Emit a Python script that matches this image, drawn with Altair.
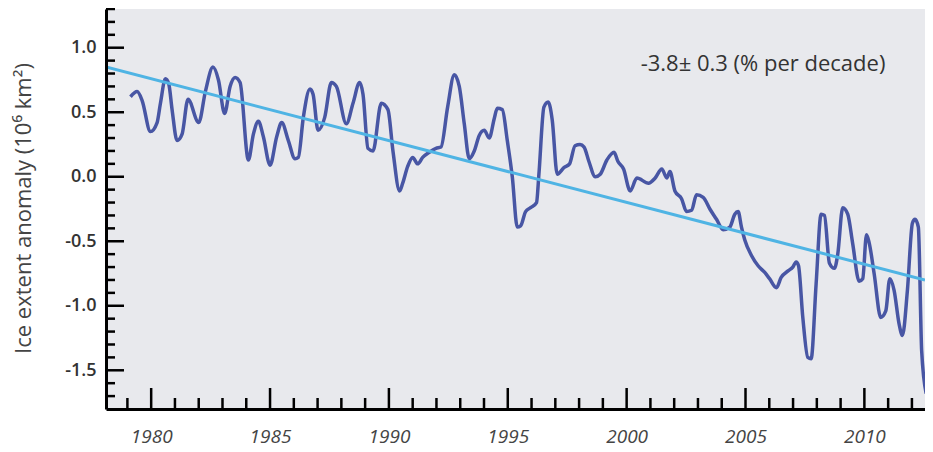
import altair as alt
import pandas as pd

# ---- data ----
years = [1979.13, 1979.41, 1979.62, 1979.97, 1980.25, 1980.39, 1980.60, 1980.74, 1980.88, 1981.09,
         1981.30, 1981.55, 1982.00, 1982.28, 1982.60, 1982.83, 1983.09, 1983.32, 1983.53, 1983.74,
         1984.09, 1984.30, 1984.51, 1984.72, 1985.00, 1985.28, 1985.49, 1985.77, 1986.05, 1986.19,
         1986.40, 1986.68, 1986.81, 1987.02, 1987.30, 1987.58, 1987.79, 1988.21, 1988.49, 1988.77,
         1988.91, 1989.12, 1989.33, 1989.68, 1989.96, 1990.17, 1990.45, 1990.58, 1990.79, 1991.00,
         1991.21, 1991.42, 1991.70, 1991.98, 1992.19, 1992.47, 1992.75, 1992.96, 1993.17, 1993.38,
         1993.59, 1993.80, 1994.01, 1994.22, 1994.43, 1994.56, 1994.77, 1994.98, 1995.19, 1995.40,
         1995.54, 1995.75, 1995.96, 1996.21, 1996.31, 1996.52, 1996.70, 1996.87, 1997.08, 1997.36,
         1997.60, 1997.83, 1998.04, 1998.21, 1998.41, 1998.68, 1998.89, 1999.17, 1999.47, 1999.63,
         1999.87, 2000.15, 2000.43, 2000.92, 2001.20, 2001.48, 2001.69, 2001.82, 2002.03, 2002.31,
         2002.52, 2002.73, 2002.94, 2003.22, 2003.50, 2003.78, 2004.06, 2004.34, 2004.55, 2004.69,
         2004.83, 2004.97, 2005.25, 2005.53, 2005.80, 2006.01, 2006.30, 2006.50, 2006.79, 2006.99,
         2007.13, 2007.23, 2007.41, 2007.62, 2007.76, 2007.97, 2008.18, 2008.32, 2008.53, 2008.74,
         2008.88, 2009.09, 2009.30, 2009.51, 2009.78, 2009.93, 2010.09, 2010.20, 2010.41, 2010.69,
         2010.90, 2011.07, 2011.25, 2011.46, 2011.60, 2011.81, 2012.02, 2012.13, 2012.27, 2012.41,
         2012.60]

anomaly = [0.62, 0.66, 0.59, 0.35, 0.42, 0.57, 0.76, 0.72, 0.52, 0.28,
           0.33, 0.60, 0.42, 0.66, 0.85, 0.75, 0.49, 0.70, 0.77, 0.73,
           0.13, 0.33, 0.43, 0.31, 0.09, 0.31, 0.42, 0.28, 0.14, 0.15,
           0.46, 0.68, 0.64, 0.36, 0.46, 0.73, 0.70, 0.41, 0.57, 0.73,
           0.64, 0.22, 0.20, 0.57, 0.52, 0.20, -0.11, -0.05, 0.08, 0.15,
           0.10, 0.15, 0.19, 0.22, 0.23, 0.54, 0.79, 0.70, 0.41, 0.14,
           0.20, 0.32, 0.36, 0.30, 0.45, 0.53, 0.52, 0.28, 0.00, -0.39,
           -0.38, -0.27, -0.24, -0.20, 0.02, 0.54, 0.58, 0.44, 0.02, 0.07,
           0.10, 0.24, 0.25, 0.23, 0.12, 0.00, 0.02, 0.13, 0.19, 0.12,
           0.06, -0.11, -0.01, -0.05, -0.01, 0.06, -0.01, 0.04, -0.11, -0.17,
           -0.27, -0.26, -0.14, -0.16, -0.25, -0.33, -0.41, -0.39, -0.29, -0.27,
           -0.39, -0.49, -0.61, -0.69, -0.74, -0.79, -0.86, -0.78, -0.73, -0.70,
           -0.66, -0.69, -1.09, -1.40, -1.41, -0.83, -0.29, -0.30, -0.67, -0.71,
           -0.60, -0.24, -0.29, -0.52, -0.81, -0.79, -0.45, -0.51, -0.75, -1.09,
           -1.04, -0.79, -0.88, -1.14, -1.23, -0.88, -0.36, -0.33, -0.39, -1.35,
           -1.68]

trend_years = [1978.1, 2012.55]
trend_values = [0.85, -0.80]

x_label_years = [1980, 1985, 1990, 1995, 2000, 2005, 2010]
x_minor_years = [1979, 1981, 1982, 1983, 1984, 1986, 1987, 1988, 1989, 1991, 1992, 1993,
                 1994, 1996, 1997, 1998, 1999, 2001, 2002, 2003, 2004, 2006, 2007, 2008,
                 2009, 2011, 2012]
y_label_values = [-1.5, -1.0, -0.5, 0.0, 0.5, 1.0]
y_minor_values = [-1.7, -1.6, -1.4, -1.3, -1.2, -1.1, -0.9, -0.8, -0.7, -0.6, -0.4, -0.3,
                  -0.2, -0.1, 0.1, 0.2, 0.3, 0.4, 0.6, 0.7, 0.8, 0.9, 1.1, 1.2, 1.3]

annotation = "-3.8\u00b1 0.3 (% per decade)"
y_title = "Ice extent anomaly (10\u2076 km\u00b2)"

# ---- chart ----
W, H = 819, 400
FONT = "Open Sans"
xscale = alt.Scale(domain=[1978.1, 2012.55], nice=False, zero=False)
yscale = alt.Scale(domain=[-1.8, 1.3], nice=False, zero=False)

series = pd.DataFrame({"year": years, "anomaly": anomaly})
trend = pd.DataFrame({"year": trend_years, "anomaly": trend_values})

x_axis = alt.Axis(orient="bottom", values=x_label_years, format="d", ticks=False, grid=False,
                  domainColor="black", domainWidth=3, labelFont=FONT,
                  labelFontStyle="italic", labelFontSize=19, labelColor="#444",
                  labelPadding=18, title=None, zindex=2)
y_axis = alt.Axis(orient="left", values=y_label_values, ticks=False, grid=False,
                  labelExpr="datum.value < 0 ? '-' + format(-datum.value, '.1f') : format(datum.value, '.1f')",
                  domainColor="black", domainWidth=3, labelFont=FONT,
                  labelFontSize=18, labelFontWeight=600, labelColor="#333",
                  labelPadding=10, title=y_title, titleFont=FONT, titleFontSize=22,
                  titleFontWeight="normal", titleColor="#444", titleX=-83, titleY=199,
                  titleAngle=270, titleAlign="center", titleBaseline="middle", zindex=2)

line = alt.Chart(series).mark_line(color="#4856a4", strokeWidth=3.5,
                                   interpolate="monotone", clip=True).encode(
    x=alt.X("year:Q", scale=xscale, axis=x_axis),
    y=alt.Y("anomaly:Q", scale=yscale, axis=y_axis))

trend_line = alt.Chart(trend).mark_line(color="#4fb4e4", strokeWidth=3, clip=True).encode(
    x=alt.X("year:Q", scale=xscale, axis=None),
    y=alt.Y("anomaly:Q", scale=yscale, axis=None))

# inward-pointing ticks, placed through the shared scales
y_major = alt.Chart(pd.DataFrame({"v": y_label_values})).mark_rule(
    color="black", strokeWidth=2.5).encode(
    y=alt.Y("v:Q", scale=yscale, axis=None), x=alt.value(0), x2=alt.value(18))
y_minor = alt.Chart(pd.DataFrame({"v": y_minor_values})).mark_rule(
    color="black", strokeWidth=2.5).encode(
    y=alt.Y("v:Q", scale=yscale, axis=None), x=alt.value(0), x2=alt.value(9))
x_major = alt.Chart(pd.DataFrame({"yr": x_label_years})).mark_rule(
    color="black", strokeWidth=2.5).encode(
    x=alt.X("yr:Q", scale=xscale, axis=None), y=alt.value(H), y2=alt.value(H - 21))
x_minor = alt.Chart(pd.DataFrame({"yr": x_minor_years})).mark_rule(
    color="black", strokeWidth=2.5).encode(
    x=alt.X("yr:Q", scale=xscale, axis=None), y=alt.value(H), y2=alt.value(H - 11))

label = alt.Chart(pd.DataFrame({"t": [annotation]})).mark_text(
    font=FONT, fontSize=22, color="#333", align="center", baseline="middle").encode(
    x=alt.value(657), y=alt.value(55), text="t:N")

chart = alt.layer(line, trend_line, y_minor, y_major, x_minor, x_major, label).resolve_axis(
    x="independent", y="independent"
).properties(
    width=W, height=H,
    autosize=alt.AutoSizeParams(type="none"),
    padding={"left": 98, "top": 1, "right": 0, "bottom": 43},
    background="white",
).configure_view(fill="#e8e9ed", stroke=None)

chart.save("out.html", embed_options={"renderer": "svg", "actions": False})
